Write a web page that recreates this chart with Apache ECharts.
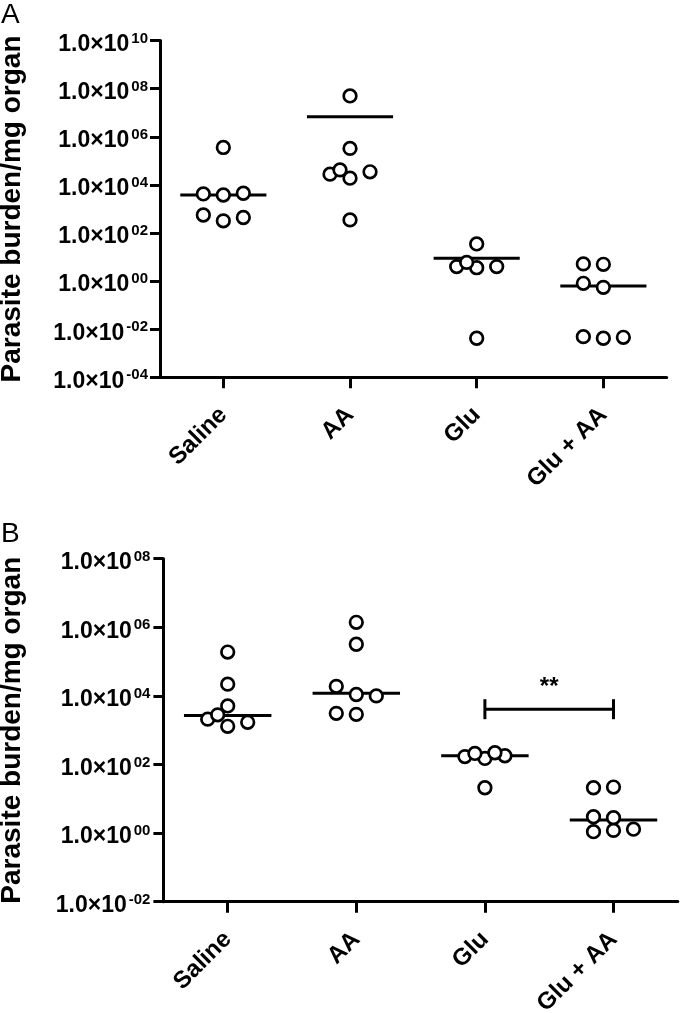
<!DOCTYPE html>
<html><head><meta charset="utf-8">
<script src="https://cdn.jsdelivr.net/npm/echarts@6/dist/echarts.min.js"></script>
<style>html,body{margin:0;padding:0;background:#fff}#c{width:680px;height:1013px}</style>
</head><body><div id="c"></div>
<script>
// ---------- data ----------
const categories = ['Saline', 'AA', 'Glu', 'Glu + AA'];
const yAxisTitle = 'Parasite burden/mg organ';

// Panel A (parasite burden per mg organ)
const salineA = [3.6e5, 3.8e3, 4.2e3, 4.5e3, 3.2e2, 5.6e2, 4.4e2];
const aaA     = [5.0e7, 3.3e5, 3.5e2, 1.9e4, 2.8e4, 3.5e4, 4.2e4];
const gluA    = [35, 3.6, 4.0, 4.0, 6.0, 4.2e-3];
const gluAaA  = [0.55, 5.0, 0.81, 5.2, 4.2e-3, 4.9e-3, 4.6e-3];
const lineA   = [3.8e3, 6.9e6, 8.9, 0.63];
const yExpA   = [-4, -2, 0, 2, 4, 6, 8, 10];

// Panel B
const salineB = [1.9e5, 2.2e4, 1.3e3, 2.1e3, 1.7e3, 2.8e3, 5.1e3];
const aaB     = [1.4e6, 3.2e5, 1.1e4, 2.9e3, 3.1e3, 1.9e4, 1.0e4];
const gluB    = [21, 1.5e2, 1.7e2, 1.8e2, 2.1e2, 2.2e2];
const gluAaB  = [22, 21, 2.8, 3.0, 1.2, 1.1, 1.3];
const lineB   = [2.7e3, 1.2e4, 1.8e2, 2.4];
const yExpB   = [-2, 0, 2, 4, 6, 8];

// significance bracket (panel B)
const sigFrom = 'Glu';
const sigTo = 'Glu + AA';
const sigLevel = 4.1e3;
const sigLabel = '**';

// ---------- chart ----------
const FONT = '"Liberation Sans", Arial, Helvetica, sans-serif';
const groupsA = [salineA, aaA, gluA, gluAaA];
const groupsB = [salineB, aaB, gluB, gluAaB];

function expLabel(v) {
  const a = Math.abs(v);
  const s = (v < 0 ? '-' : '') + (a < 10 ? '0' + a : '' + a);
  return '{b|1.0×10}{s|' + s + '}';
}

function yAxis(gridIndex, exps, margin, nameGap) {
  return {
    type: 'value', gridIndex: gridIndex,
    min: exps[0], max: exps[exps.length - 1], interval: exps[1] - exps[0],
    name: yAxisTitle, nameLocation: 'middle', nameGap: nameGap,
    nameTextStyle: { fontFamily: FONT, fontSize: 28, fontWeight: 'bold', color: '#000' },
    axisLine: { show: true, onZero: false, lineStyle: { color: '#000', width: 3 } },
    axisTick: { show: true, length: 10, lineStyle: { color: '#000', width: 3 } },
    splitLine: { show: false },
    axisLabel: {
      margin: margin, color: '#000', fontFamily: FONT,
      formatter: expLabel,
      rich: {
        b: { fontFamily: FONT, fontSize: 23, fontWeight: 'bold', color: '#000', lineHeight: 23, padding: [8, 0, 0, 0] },
        s: { fontFamily: FONT, fontSize: 15, fontWeight: 'bold', color: '#000', lineHeight: 15, padding: [6, 0, 10, 2] }
      }
    }
  };
}

function xAxis(gridIndex) {
  return {
    type: 'category', gridIndex: gridIndex, data: categories, boundaryGap: true,
    axisLine: { show: true, onZero: false, lineStyle: { color: '#000', width: 3 } },
    axisTick: { show: true, alignWithLabel: true, length: 11, lineStyle: { color: '#000', width: 3 } },
    splitLine: { show: false },
    axisLabel: {
      rotate: 45, margin: 34, interval: 0, hideOverlap: false,
      fontFamily: FONT, fontSize: 24, fontWeight: 'bold', color: '#000'
    }
  };
}

// swarm layout of the points of one category, computed in pixel space from the axis scales
const STEP = 10, COL_W = 10, ROW_H = 12, R = 6.3;
const CANDS = [0, -2, 2, -1, 1, -3, 3, -4, 4, -5, 5];
function pointsSeries(idx, groups) {
  return {
    type: 'custom', xAxisIndex: idx, yAxisIndex: idx, z: 5, silent: true,
    data: groups.map((g, i) => [i, 0]),
    encode: { x: 0, y: 1 },
    renderItem: function (params, api) {
      const ci = api.value(0);
      const vals = groups[ci];
      const placed = [];
      const children = [];
      vals.forEach(function (v) {
        const p = api.coord([ci, Math.log10(v)]);
        let off = 0;
        for (const c of CANDS) {
          const dx = c * STEP;
          const hit = placed.some(q => Math.abs(q[0] - (p[0] + dx)) < COL_W && Math.abs(q[1] - p[1]) < ROW_H);
          if (!hit) { off = dx; break; }
        }
        placed.push([p[0] + off, p[1]]);
        children.push({
          type: 'circle', shape: { cx: p[0] + off, cy: p[1], r: R },
          style: { fill: '#fff', stroke: '#000', lineWidth: 2.7 }
        });
      });
      return { type: 'group', children: children };
    }
  };
}

function lineSeries(idx, lines) {
  return {
    type: 'custom', xAxisIndex: idx, yAxisIndex: idx, z: 3, silent: true,
    data: lines.map((v, i) => [i, Math.log10(v)]),
    encode: { x: 0, y: 1 },
    renderItem: function (params, api) {
      const p = api.coord([api.value(0), api.value(1)]);
      const half = api.size([1, 0])[0] * 0.34;
      return {
        type: 'line', shape: { x1: p[0] - half, y1: p[1], x2: p[0] + half, y2: p[1] },
        style: { stroke: '#000', lineWidth: 3 }
      };
    }
  };
}

function bracketSeries(idx) {
  const i1 = categories.indexOf(sigFrom), i2 = categories.indexOf(sigTo);
  return {
    type: 'custom', xAxisIndex: idx, yAxisIndex: idx, z: 4, silent: true,
    data: [[i1, Math.log10(sigLevel), i2]],
    encode: { x: 0, y: 1 },
    renderItem: function (params, api) {
      const p1 = api.coord([api.value(0), api.value(1)]);
      const p2 = api.coord([api.value(2), api.value(1)]);
      const st = { stroke: '#000', lineWidth: 3 };
      return {
        type: 'group', children: [
          { type: 'line', shape: { x1: p1[0], y1: p1[1], x2: p2[0], y2: p2[1] }, style: st },
          { type: 'line', shape: { x1: p1[0], y1: p1[1] - 10, x2: p1[0], y2: p1[1] + 10 }, style: st },
          { type: 'line', shape: { x1: p2[0], y1: p2[1] - 10, x2: p2[0], y2: p2[1] + 10 }, style: st },
          { type: 'text', style: { text: sigLabel, x: (p1[0] + p2[0]) / 2, y: p1[1] - 22,
            align: 'center', verticalAlign: 'middle', fontFamily: FONT, fontSize: 24, fontWeight: 'bold', fill: '#000' } }
        ]
      };
    }
  };
}

const chart = echarts.init(document.getElementById('c'), null, { renderer: 'canvas' });
chart.setOption({
  animation: false,
  backgroundColor: '#fff',
  textStyle: { fontFamily: FONT },
  grid: [
    { left: 160, top: 40.6, width: 506.7, height: 336.7, containLabel: false, outerBoundsMode: 'none' },
    { left: 163.4, top: 558.7, width: 514.4, height: 343, containLabel: false, outerBoundsMode: 'none' }
  ],
  xAxis: [xAxis(0), xAxis(1)],
  yAxis: [yAxis(0, yExpA, 12, 134), yAxis(1, yExpB, 13, 137)],
  graphic: [
    { type: 'text', left: 1, top: 1, style: { text: 'A', fontFamily: FONT, fontSize: 28, fill: '#000' } },
    { type: 'text', left: 1, top: 520, style: { text: 'B', fontFamily: FONT, fontSize: 28, fill: '#000' } }
  ],
  series: [
    lineSeries(0, lineA), pointsSeries(0, groupsA),
    lineSeries(1, lineB), pointsSeries(1, groupsB), bracketSeries(1)
  ]
});
</script>
</body></html>
